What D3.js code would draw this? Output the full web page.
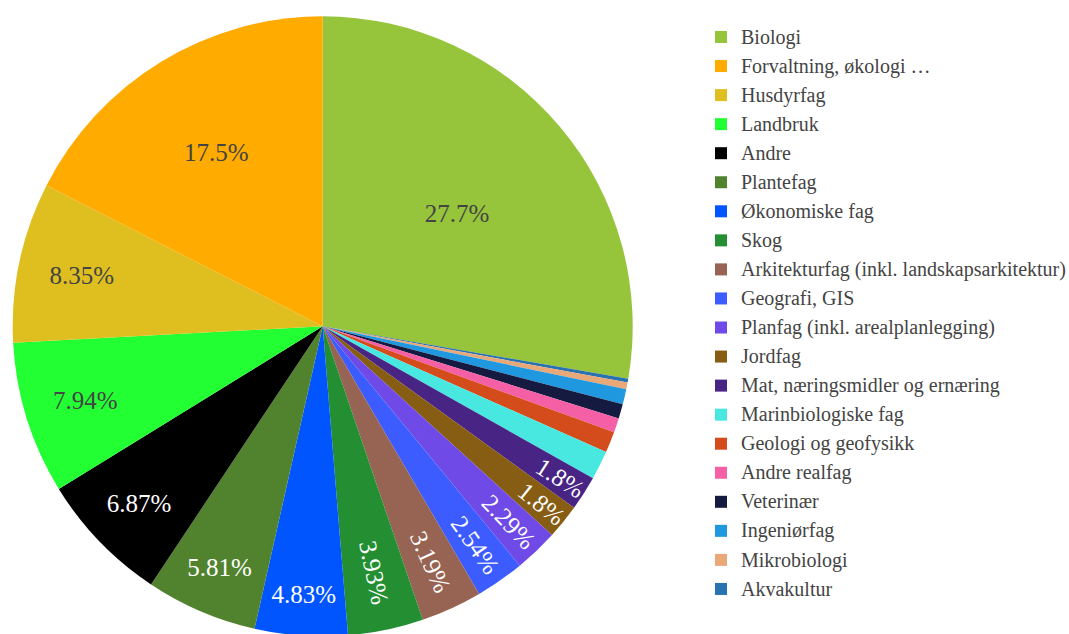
<!DOCTYPE html>
<html>
<head>
<meta charset="utf-8">
<script src="https://cdn.jsdelivr.net/npm/d3@7"></script>
<style>
  body { margin: 0; background: #fff; }
  svg { display: block; font-family: "Liberation Serif", "Times New Roman", serif; }
</style>
</head>
<body>
<div id="viz"></div>
<script>
const categories = [
  "Biologi", "Forvaltning, økologi …", "Husdyrfag", "Landbruk", "Andre", "Plantefag",
  "Økonomiske fag", "Skog", "Arkitekturfag (inkl. landskapsarkitektur)", "Geografi, GIS",
  "Planfag (inkl. arealplanlegging)", "Jordfag", "Mat, næringsmidler og ernæring",
  "Marinbiologiske fag", "Geologi og geofysikk", "Andre realfag", "Veterinær",
  "Ingeniørfag", "Mikrobiologi", "Akvakultur"
];
const shares = [27.7, 17.5, 8.35, 7.94, 6.87, 5.81, 4.83, 3.93, 3.19, 2.54, 2.29, 1.8, 1.8, 1.5, 1.1, 0.75, 0.75, 0.8, 0.35, 0.2];
const colors = [
  "#96c43b", "#ffab00", "#dfbf20", "#22ff33", "#000000", "#51832f",
  "#0055ff", "#238f32", "#976352", "#3d5cff", "#6f4ae6", "#865d12",
  "#482484", "#48e8e0", "#d44c1c", "#f55fa5", "#141a40", "#1f98e0",
  "#e8a878", "#2872b0"
];

const width = 1069, height = 634;
const cx = 322.7, cy = 326.3, R = 310;
const fontSize = 25, legendFont = 20, TEXTPAD = 3;

const data = categories.map((c, i) => ({ name: c, value: shares[i], color: colors[i] }));

const svg = d3.select("#viz").append("svg")
  .attr("width", width)
  .attr("height", height);

// Biologi runs clockwise from 12 o'clock, the rest counter-clockwise from 12 o'clock
const order = [0].concat(d3.range(data.length - 1, 0, -1));
const total = d3.sum(shares);
const angle = d3.scaleLinear().domain([0, total]).range([0, 2 * Math.PI]);

let acc = 0;
const slices = order.map(i => {
  const s = { data: data[i], startAngle: angle(acc), endAngle: angle(acc + data[i].value) };
  acc += data[i].value;
  return s;
});

const arc = d3.arc().innerRadius(0).outerRadius(R);

const g = svg.append("g").attr("transform", `translate(${cx},${cy})`);

g.selectAll("path")
  .data(slices)
  .enter()
  .append("path")
  .attr("d", arc)
  .attr("fill", d => d.data.color);

function isLight(c) {
  const rgb = d3.rgb(c);
  return (rgb.r * 299 + rgb.g * 587 + rgb.b * 114) / 1000 >= 128;
}

function maxHalfSize(a, halfAngle, r) {
  const q = a + 1 / (2 * Math.tan(halfAngle));
  return r * Math.min(1 / (Math.sqrt(q * q + 0.5) + q), 1 / (Math.sqrt(a * a + 0.5) + a));
}

// inside text placed the way plotly does it (auto orientation, hide if it must shrink)
slices.forEach(s => {
  const label = g.append("text")
    .attr("text-anchor", "middle")
    .style("font-size", fontSize + "px")
    .attr("fill", isLight(s.data.color) ? "#444" : "#fff")
    .text(d3.format(".3~g")(s.data.value) + "%");
  const bb = label.node().getBBox();
  const halfAngle = (s.endAngle - s.startAngle) / 2;
  const mid = (s.startAngle + s.endAngle) / 2;

  const rIns = Math.min(1 / (1 + 1 / Math.sin(halfAngle)), 0.5);
  const diam = Math.hypot(bb.width, bb.height);
  let t = { scale: rIns * R * 2 / diam, rCenter: 1 - rIns, rotate: 0 };

  if (t.scale < 1) {
    const r2 = R - 2 * TEXTPAD;
    const cands = [t];
    let a = bb.width / bb.height;
    let hs = maxHalfSize(a, halfAngle, r2);
    let rot = mid * 180 / Math.PI - 90;
    if (rot > 90) rot -= 180;
    cands.push({ scale: hs * 2 / bb.height, rCenter: Math.cos(hs / r2) - a * hs / r2, rotate: rot });
    a = bb.height / bb.width;
    hs = maxHalfSize(a, halfAngle, r2);
    let rot2 = mid * 180 / Math.PI;
    if (rot2 > 90 && rot2 < 270) rot2 -= 180;
    cands.push({ scale: hs * 2 / bb.width, rCenter: Math.cos(hs / r2) - a * hs / r2, rotate: rot2 });
    t = cands.reduce((m, c) => c.scale > m.scale ? c : m);
  }

  if (t.scale < 1) { label.remove(); return; }

  const x = Math.sin(mid) * R * t.rCenter;
  const y = -Math.cos(mid) * R * t.rCenter;
  const dy = -(bb.y + bb.height / 2);
  label.attr("transform", `translate(${x},${y}) rotate(${t.rotate}) translate(0,${dy})`);
});

// legend
const legend = svg.append("g").attr("transform", "translate(715,37)");
const rowH = 29.05;
const items = legend.selectAll("g")
  .data(data)
  .enter()
  .append("g")
  .attr("transform", (d, i) => `translate(0,${i * rowH})`);

items.append("rect")
  .attr("x", 0).attr("y", -6)
  .attr("width", 12).attr("height", 12)
  .attr("fill", d => d.color);

items.append("text")
  .attr("x", 26)
  .attr("dy", "0.33em")
  .style("font-size", legendFont + "px")
  .attr("fill", "#444")
  .text(d => d.name);
</script>
</body>
</html>
